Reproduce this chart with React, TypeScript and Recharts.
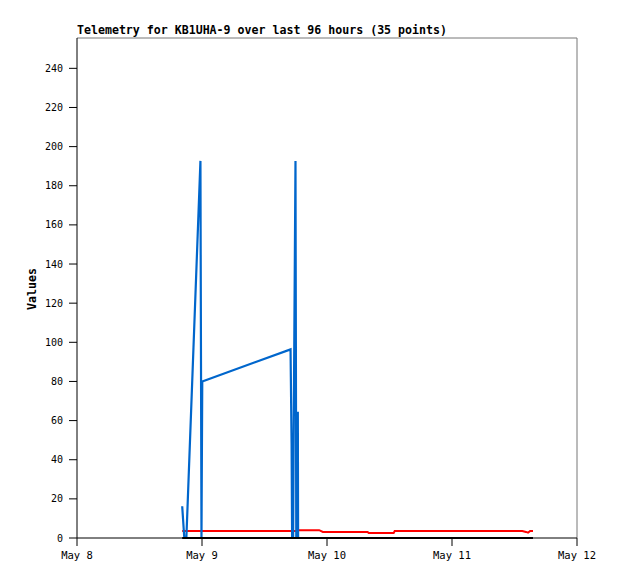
import { LineChart, Line, XAxis, YAxis, ReferenceLine } from 'recharts';

// hours since May 8 00:00
const hours = [
  20.2, 20.6, 21.0, 23.7, 23.9, 24.05, 41.0, 41.2, 41.3, 41.4, 41.5, 41.6, 41.95, 42.1,
  42.2, 42.3, 42.4, 42.45, 42.5, 46.5, 47.2, 51.5, 55.8, 56.0, 60.8, 61.0, 65.0, 70.0,
  74.0, 78.0, 82.0, 85.5, 86.2, 86.6, 87.0, 87.55,
];
const blueValues = [
  16.2, 0, 0, 192.7, 0, 80, 96.4, 48.4, 0, 48, 0, 53, 192.7, 0,
  64.5, 0, 64.5, 0, 0, 0, 0, 0, 0, 0, 0, 0, 0, 0,
  0, 0, 0, 0, 0, 0, 0, 0,
];
const redValues = [
  3.6, 3.6, 3.6, 3.6, 3.6, 3.6, 3.6, 3.6, 3.6, 3.6, 3.6, 3.6, 3.6, 3.6,
  3.6, 3.6, 3.6, 3.6, 4.0, 4.0, 3.1, 3.1, 3.1, 2.6, 2.6, 3.6, 3.6, 3.6,
  3.6, 3.6, 3.6, 3.6, 3.1, 2.7, 3.6, 3.6,
];
const blackValues = [
  0, 0, 0, 0, 0, 0, 0, 0, 0, 0, 0, 0, 0, 0,
  0, 0, 0, 0, 0, 0, 0, 0, 0, 0, 0, 0, 0, 0,
  0, 0, 0, 0, 0, 0, 0, 0,
];

const xTicks = [0, 24, 48, 72, 96];
const xTickLabels = ['May 8', 'May 9', 'May 10', 'May 11', 'May 12'];
const yTicks = [0, 20, 40, 60, 80, 100, 120, 140, 160, 180, 200, 220, 240];
const Y_MAX = 255.5;

const title = 'Telemetry for KB1UHA-9 over last 96 hours (35 points)';

const FONT = '"DejaVu Sans Mono", monospace';

const toRows = (vals: number[]) => hours.map((t, i) => ({ t, v: vals[i] }));

export default function App() {
  const blue = toRows(blueValues);
  const red = toRows(redValues);
  const black = toRows(blackValues);

  return (
    <div style={{ position: 'absolute', left: 0, top: 0, width: 618, height: 579, background: '#fff' }}>
      <div
        style={{
          position: 'absolute',
          left: 77,
          top: 24,
          fontFamily: FONT,
          fontWeight: 'bold',
          fontSize: 11.6,
          lineHeight: '13px',
          whiteSpace: 'nowrap',
          color: '#000',
        }}
      >
        {title}
      </div>
      <div
        style={{
          position: 'absolute',
          left: 32,
          top: 289,
          transform: 'translate(-50%, -50%) rotate(-90deg)',
          fontFamily: FONT,
          fontWeight: 'bold',
          fontSize: 11.6,
          lineHeight: '13px',
          whiteSpace: 'nowrap',
          color: '#000',
        }}
      >
        Values
      </div>
      <LineChart width={618} height={579} margin={{ top: 38, right: 41, bottom: 0, left: 0 }}>
        <XAxis
          type="number"
          dataKey="t"
          domain={[0, 96]}
          ticks={xTicks}
          tickFormatter={(v: number) => xTickLabels[xTicks.indexOf(v)]}
          height={41}
          tickSize={8}
          tickMargin={6}
          axisLine={{ stroke: '#000' }}
          tickLine={{ stroke: '#000' }}
          tick={{ fill: '#000', fontSize: 10.5, fontFamily: FONT }}
          interval={0}
        />
        <YAxis
          type="number"
          domain={[0, Y_MAX]}
          ticks={yTicks}
          width={77}
          tickSize={8}
          tickMargin={6}
          axisLine={{ stroke: '#000' }}
          tickLine={{ stroke: '#000' }}
          tick={{ fill: '#000', fontSize: 10, fontFamily: FONT }}
          interval={0}
        />
        <ReferenceLine y={Y_MAX} stroke="#777" />
        <ReferenceLine x={96} stroke="#777" />
        <Line data={red} dataKey="v" stroke="#ff0000" strokeWidth={2} dot={false} isAnimationActive={false} />
        <Line data={blue} dataKey="v" stroke="#0066cc" strokeWidth={2.2} dot={false} isAnimationActive={false} />
        <Line data={black} dataKey="v" stroke="#000000" strokeWidth={2} dot={false} isAnimationActive={false} />
      </LineChart>
    </div>
  );
}
